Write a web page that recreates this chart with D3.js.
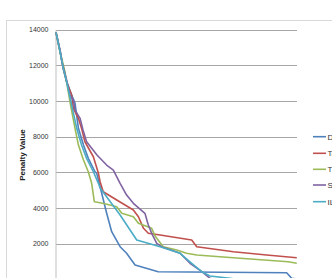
<!DOCTYPE html>
<html><head><meta charset="utf-8">
<script src="https://cdn.jsdelivr.net/npm/d3@7"></script>
<style>body{margin:0;background:#fff;}svg{display:block;}</style>
</head><body>
<svg id="c" width="332" height="278"></svg>
<script>
const seriesNames = ["DSatur", "Tabu Search", "Threshold", "SA", "ILS"];
const seriesColors = ["#4F81BD", "#C0504D", "#9BBB59", "#8064A2", "#4BACC6"];
const yTicks = [2000, 4000, 6000, 8000, 10000, 12000, 14000];

const dX = [0,1.7,3.0,4.4,6.5,7.9,9.3,11.4,13.4,16.2,16.9,18.3,21.0,23.1,26.6,29.3,32.8,42.4,95.7,97.8,100];
const dY = [13850,12762,11831,11079,10334,9868,8467,7530,6784,6033,5943,5192,3717,2669,1828,1458,802,426,370,56,20];

const tX = [0,1.7,3.0,4.4,6.5,7.2,9.3,10.6,12.0,15.5,17.6,18.3,19.6,25.2,32.1,34.2,36.3,38.3,43.2,56.3,58.4,73.6,87.4,99.9];
const tY = [13850,12762,11831,11079,10334,9588,9027,8467,7715,6874,5943,5472,4912,4446,3886,3510,2860,2579,2484,2204,1828,1548,1363,1211];

const gX = [0,1.7,3.7,5.8,7.9,9.3,11.4,13.4,14.8,15.9,18.3,22.4,25.2,27.3,32.1,34.2,39.7,41.1,44.5,50.1,54.2,58.4,68.0,73.6,96.3,99.9];
const gY = [13850,12762,11640,9958,8467,7530,6689,6033,5383,4351,4295,4166,4071,3701,3510,3140,2860,2428,1828,1643,1458,1363,1267,1211,987,897];

const sX = [0,1.7,2.5,4.4,5.8,7.2,7.9,10.0,11.2,12.7,17.0,21.0,23.8,26.6,29.3,32.1,36.9,38.3,39.7,41.8,43.8,51.5,55.6,60.5,63.9,66];
const sY = [13850,12857,12184,11175,10334,10053,9493,9027,8371,7715,6969,6408,6128,5383,4727,4261,3701,3045,2579,2019,1828,1458,897,426,56,0];

const iX = [0,1.7,3.0,4.4,8.6,10.6,12.7,15.5,17.6,18.3,26.6,33.5,43.2,51.5,56.3,60.5,63.9,72.2,75];
const iY = [13850,12762,11831,11079,8467,7530,6784,6033,5383,5119,3605,2204,1828,1458,897,426,185,56,0];

const allX = [dX, tX, gX, sX, iX];
const allY = [dY, tY, gY, sY, iY];

const svg = d3.select("#c");
const L = 56, R = 297, T = 29.7, B = 279.3;
const x = d3.scaleLinear().domain([0, 100]).range([L, R]);
const y = d3.scaleLinear().domain([0, 14000]).range([B, T]);

svg.append("rect").attr("x", 6.5).attr("y", 20.5).attr("width", 340).attr("height", 280)
  .attr("fill", "#fff").attr("stroke", "#D9D9D9").attr("stroke-width", 1);

svg.append("g").selectAll("line").data(yTicks).join("line")
  .attr("x1", L).attr("x2", R)
  .attr("y1", d => Math.round(y(d)) + 0.5).attr("y2", d => Math.round(y(d)) + 0.5)
  .attr("stroke", "#A6A6A6").attr("stroke-width", 1);

const yAxis = d3.axisLeft(y).tickValues(yTicks).tickSize(0).tickPadding(7).tickFormat(d3.format("d"));
const ga = svg.append("g").attr("transform", `translate(${L - 0.5},0)`).call(yAxis);
ga.select(".domain").attr("stroke", "#BFBFBF");
ga.selectAll("text").attr("font-family", "Liberation Sans, Arial, sans-serif")
  .attr("font-size", 7).attr("fill", "#333");

svg.append("text").attr("transform", "translate(25,155) rotate(-90)")
  .attr("text-anchor", "middle").attr("font-family", "Liberation Sans, Arial, sans-serif")
  .attr("font-size", 8).attr("font-weight", "bold").attr("fill", "#222")
  .text("Penalty Value");

const line = d3.line().x(d => x(d[0])).y(d => y(d[1]));
allX.forEach((xs, i) => {
  const pts = xs.map((v, j) => [v, allY[i][j]]);
  svg.append("path").datum(pts).attr("d", line).attr("fill", "none")
    .attr("stroke", seriesColors[i]).attr("stroke-width", 1.6)
    .attr("stroke-linejoin", "round");
});

const legY = [136.7, 153.3, 169.3, 185, 201.7];
const lg = svg.append("g");
seriesNames.forEach((n, i) => {
  lg.append("line").attr("x1", 313).attr("x2", 326).attr("y1", legY[i]).attr("y2", legY[i])
    .attr("stroke", seriesColors[i]).attr("stroke-width", 1.6);
  lg.append("text").attr("x", 327.5).attr("y", legY[i] + 2.8)
    .attr("font-family", "Liberation Sans, Arial, sans-serif").attr("font-size", 8)
    .attr("fill", "#333").text(n);
});
</script>
</body></html>
